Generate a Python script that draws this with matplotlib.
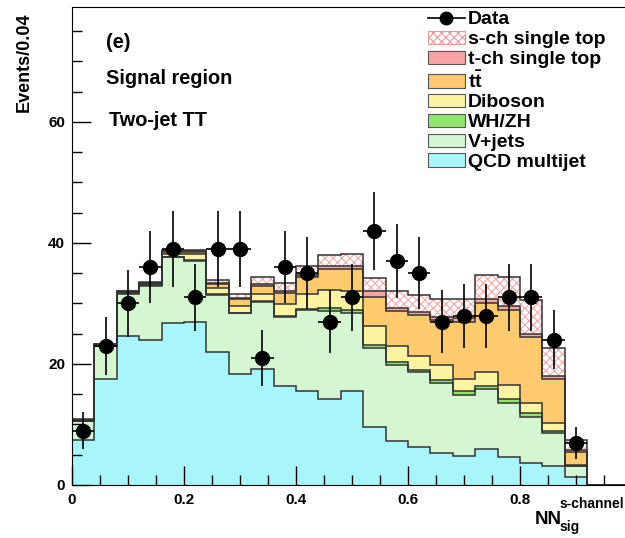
import numpy as np
import matplotlib
matplotlib.use('Agg')
import matplotlib.pyplot as plt
from matplotlib.lines import Line2D
from matplotlib.patches import Patch
from matplotlib.ticker import MultipleLocator

plt.rcParams['font.family'] = ['Liberation Sans', 'DejaVu Sans']
plt.rcParams['font.weight'] = 'bold'
plt.rcParams['mathtext.fontset'] = 'custom'
plt.rcParams['mathtext.bf'] = 'Liberation Sans:bold'
plt.rcParams['mathtext.rm'] = 'Liberation Sans:bold'
plt.rcParams['hatch.linewidth'] = 0.8

# bin edges: 25 bins of width 0.04
edges = np.linspace(0, 1, 26)
centers = edges[:-1] + 0.02

# backgrounds, events per bin
qcd = [7.5, 17.6, 24.6, 23.9, 26.7, 27.0, 21.9, 18.3, 19.1, 16.3, 15.6, 14.2, 15.5,
       9.6, 7.2, 6.3, 5.3, 4.8, 5.9, 4.6, 3.6, 3.1, 1.4, 0, 0]
vjets = [3.0, 5.3, 7.0, 9.0, 10.9, 10.1, 9.5, 10.1, 11.2, 11.4, 13.3, 14.6, 12.9,
         13.1, 12.7, 12.3, 11.6, 10.1, 9.9, 8.9, 7.6, 5.5, 1.7, 0, 0]
whzh = [0.05, 0.1, 0.1, 0.1, 0.1, 0.1, 0.1, 0.1, 0.1, 0.2, 0.2, 0.4, 0.5,
        0.5, 0.5, 0.4, 0.5, 0.7, 0.6, 0.7, 0.7, 0.4, 0.1, 0, 0]
diboson = [0.1, 0.1, 0.15, 0.2, 0.5, 0.9, 1.1, 1.1, 1.2, 2.0, 2.4, 3.0, 3.1,
           3.0, 2.5, 2.3, 2.4, 2.0, 2.3, 2.3, 1.6, 1.2, 0.1, 0, 0]
ttbar = [0.1, 0.1, 0.1, 0.15, 0.3, 0.4, 0.6, 1.1, 1.3, 1.8, 2.8, 3.5, 3.7,
         4.9, 5.9, 6.8, 7.5, 9.4, 11.3, 12.4, 10.9, 7.3, 2.2, 0, 0]
tchan = [0.05, 0.05, 0.05, 0.1, 0.1, 0.1, 0.2, 0.2, 0.4, 0.4, 0.4, 0.5, 0.5,
         0.9, 0.5, 0.5, 0.4, 0.6, 0.7, 0.7, 0.6, 0.5, 0.3, 0, 0]
schan = [0.1, 0.05, 0.1, 0.15, 0.2, 0.3, 0.5, 0.7, 1.0, 1.3, 1.5, 1.8, 2.0,
         2.2, 2.7, 2.8, 3.1, 3.2, 4.0, 4.8, 5.6, 4.7, 1.7, 0, 0]

# observed data (bins 0..22)
data = [9, 23, 30, 36, 39, 31, 39, 39, 21, 36, 35, 27, 31, 42, 37, 35, 27, 28, 28,
        31, 31, 24, 7]

labels = ['QCD multijet', 'V+jets', 'WH/ZH', 'Diboson', r'$\mathbf{t\bar{t}}$',
          't-ch single top', 's-ch single top']
colors = ['#a8f6fa', '#d4f7d2', '#8fe66c', '#fdf4a2', '#fdca6e', '#f8a4a4', 'white']
layers = [qcd, vjets, whzh, diboson, ttbar, tchan, schan]

fig = plt.figure(figsize=(6.25, 5.38), dpi=100)
ax = fig.add_axes([72 / 625, 53 / 538, 560 / 625, 478 / 538])

bottom = np.zeros(25)
for vals, col, lab in zip(layers, colors, labels):
    top = bottom + np.array(vals)
    if lab == 's-ch single top':
        ax.stairs(top, edges, baseline=bottom, fill=True, facecolor='white',
                  edgecolor='#f0a8a8', hatch='xxxx', linewidth=0)
    else:
        ax.stairs(top, edges, baseline=bottom, fill=True, facecolor=col, linewidth=0)
    bottom = top

# outlines of each stacked histogram
bottom = np.zeros(25)
for vals in layers:
    bottom = bottom + np.array(vals)
    ax.stairs(bottom, edges, color='#333333', linewidth=1.1)

# data points with error bars
x_data = centers[:len(data)]
ax.errorbar(x_data, data, yerr=np.sqrt(data), xerr=0.02, fmt='o', color='black',
            markersize=10, elinewidth=1.2, capsize=0, zorder=5)

ax.set_xlim(0, 1)
ax.set_ylim(0, 79)
ax.xaxis.set_minor_locator(MultipleLocator(0.05))
ax.yaxis.set_major_locator(MultipleLocator(20))
ax.yaxis.set_minor_locator(MultipleLocator(5))
ax.set_xticks([0, 0.2, 0.4, 0.6, 0.8])
ax.set_xticklabels(['0', '0.2', '0.4', '0.6', '0.8'])
ax.tick_params(which='major', direction='in', length=14, width=1.0, labelsize=11, pad=5)
ax.tick_params(which='minor', direction='in', length=7, width=1.0)
ax.tick_params(axis='x', which='major', pad=6)
ax.tick_params(top=False, right=False)
for lab in ax.get_xticklabels() + ax.get_yticklabels():
    lab.set_fontweight('bold')

# text labels
fig.text(106 / 625, 1 - 42 / 538, '(e)', fontsize=14.3, fontweight='bold', va='center')
fig.text(106 / 625, 1 - 79 / 538, 'Signal region', fontsize=14.3, fontweight='bold', va='center')
fig.text(109 / 625, 1 - 121 / 538, 'Two-jet TT', fontsize=14.3, fontweight='bold', va='center')
fig.text(24 / 625, 1 - 12 / 538, 'Events/0.04', fontsize=13, fontweight='bold',
         rotation=90, ha='center', va='top')

# x axis label
fig.text(535 / 625, 1 - 519 / 538, 'NN', fontsize=13.5, fontweight='bold', va='center')
fig.text(560 / 625, 1 - 504 / 538, 's-channel', fontsize=10, fontweight='bold', va='center')
fig.text(560 / 625, 1 - 527 / 538, 'sig', fontsize=10, fontweight='bold', va='center')

# legend
handles = [Line2D([], [], color='black', marker='o', markersize=9, linewidth=1.2)]
leg_labels = ['Data']
for col, lab in reversed(list(zip(colors, labels))):
    if lab == 's-ch single top':
        handles.append(Patch(facecolor='white', edgecolor='#e89a9a', hatch='xxxx', linewidth=0.8))
    else:
        handles.append(Patch(facecolor=col, edgecolor='#555555', linewidth=0.8))
    leg_labels.append(lab)
fig.legend(handles, leg_labels, loc='upper left', bbox_to_anchor=(428 / 625, 1 - 11 / 538),
           frameon=False, fontsize=14, handlelength=1.9, handleheight=0.68,
           handletextpad=0.15, labelspacing=0.12, borderaxespad=0, borderpad=0)

fig.savefig('out.png', dpi=100)
